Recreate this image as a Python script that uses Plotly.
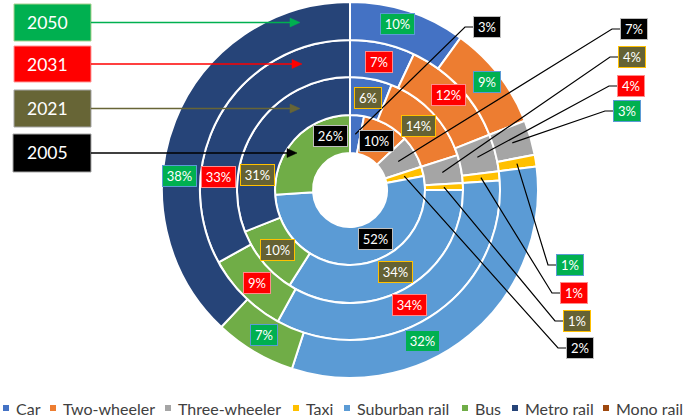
import math
import plotly.graph_objects as go

# ---------------- data ----------------
categories = ["Car", "Two-wheeler", "Three-wheeler", "Taxi",
              "Suburban rail", "Bus", "Metro rail", "Mono rail"]
years = ["2005", "2021", "2031", "2050"]
share_2005 = [3, 10, 7, 2, 52, 26, 0, 0]
share_2021 = [6, 14, 4, 1, 34, 10, 31, 0]
share_2031 = [7, 12, 4, 1, 34, 9, 33, 0]
share_2050 = [10, 9, 3, 1, 32, 7, 38, 0]
shares = {"2005": share_2005, "2021": share_2021, "2031": share_2031, "2050": share_2050}

# ---------------- styles / layout ----------------
W, H = 685, 419
colors = ["#4472C4", "#ED7D31", "#A5A5A5", "#FFC000",
          "#5B9BD5", "#70AD47", "#264478", "#9E480E"]
CX, CY = 350, 190
ring_in = {"2005": 37, "2021": 75, "2031": 113, "2050": 150}
ring_out = {"2005": 75, "2021": 113, "2031": 150, "2050": 188}
year_style = {
    "2005": dict(bg="#000000", border="#BFBFBF"),
    "2021": dict(bg="#656234", border="#FFC000"),
    "2031": dict(bg="#FF0000", border="#FF8C8C"),
    "2050": dict(bg="#00B050", border="#5B9BD5"),
}
FONT = "Lato, Carlito, Calibri, sans-serif"


def px(x):
    return x / W


def py(y):
    return 1 - y / H


fig = go.Figure()
for yr in years:
    R = ring_out[yr]
    fig.add_trace(go.Pie(
        labels=categories, values=shares[yr], sort=False, direction="clockwise",
        rotation=0, hole=ring_in[yr] / R, textinfo="none", showlegend=False,
        marker=dict(colors=colors, line=dict(color="white", width=2)),
        domain=dict(x=[px(CX - R), px(CX + R)], y=[py(CY + R), py(CY - R)]),
        name=yr, hoverinfo="label+value+name",
    ))

shapes = []
annotations = []


def slice_point(yr, idx, radius=None):
    vals = shares[yr]
    tot = sum(vals)
    before = sum(vals[:idx])
    frac = (before + vals[idx] / 2) / tot
    ang = 2 * math.pi * frac
    r = radius if radius is not None else (ring_in[yr] + ring_out[yr]) / 2
    return CX + r * math.sin(ang), CY - r * math.cos(ang)


# label positions that were moved by hand in the original (pixel centres)
label_override = {
    ("2005", "Bus"): (330, 136),
    ("2005", "Suburban rail"): (375, 239),
    ("2031", "Suburban rail"): (409, 305),
    ("2050", "Suburban rail"): (422, 341),
    ("2021", "Metro rail"): (257, 175),
    ("2031", "Metro rail"): (218, 177),
    ("2050", "Metro rail"): (179, 176),
    ("2050", "Car"): (397, 24),
    ("2031", "Two-wheeler"): (448, 95),
    ("2050", "Two-wheeler"): (487, 82),
}
# labels with leader lines (pixel centres of the boxes)
leader_pos = {
    ("2005", "Car"): (487, 27),
    ("2005", "Three-wheeler"): (634, 29),
    ("2021", "Three-wheeler"): (632, 57),
    ("2031", "Three-wheeler"): (631, 86),
    ("2050", "Three-wheeler"): (627, 111),
    ("2050", "Taxi"): (570, 265),
    ("2031", "Taxi"): (574, 293),
    ("2021", "Taxi"): (577, 321),
    ("2005", "Taxi"): (580, 348),
}


def add_label(text, x, y, st):
    w = 24 if len(text) <= 2 else 31
    annotations.append(dict(
        x=px(x), y=py(y), xref="paper", yref="paper", text=text, showarrow=False,
        font=dict(family=FONT, size=13, color="white"), bgcolor=st["bg"],
        bordercolor=st["border"], borderwidth=1, borderpad=1, width=w, height=18,
        xanchor="center", yanchor="middle",
    ))
    return (w + 4) / 2


for yr in years:
    st = year_style[yr]
    for i, cat in enumerate(categories):
        v = shares[yr][i]
        if v == 0:
            continue
        text = f"{v}%"
        key = (yr, cat)
        if key in leader_pos:
            bx, by = leader_pos[key]
            half = add_label(text, bx, by, st)
            sx, sy = slice_point(yr, i)
            left = bx - half
            kx = left - 8
            shapes.append(dict(
                type="path", xref="paper", yref="paper",
                path=f"M{px(sx)},{py(sy)} L{px(kx)},{py(by)} L{px(left)},{py(by)}",
                line=dict(color="black", width=1.2),
            ))
        else:
            if key in label_override:
                lx, ly = label_override[key]
            else:
                lx, ly = slice_point(yr, i)
            add_label(text, lx, ly, st)

# year boxes with arrows
year_box = {"2050": (14, 4, 91, 41), "2031": (14, 46, 91, 82),
            "2021": (14, 90, 91, 127), "2005": (13, 134, 91, 172)}
arrow_end = {"2050": 300, "2031": 302, "2021": 300, "2005": 297}
year_box_fill = {"2050": "#00B050", "2031": "#FF0000", "2021": "#676536", "2005": "#000000"}
year_box_line = {"2050": "#A9D18E", "2031": "#FF9999", "2021": "#A5A5A5", "2005": "#A5A5A5"}
for yr in years:
    x0, y0, x1, y1 = year_box[yr]
    cy = (y0 + y1) / 2
    shapes.append(dict(type="rect", xref="paper", yref="paper",
                       x0=px(x0), x1=px(x1), y0=py(y1), y1=py(y0),
                       fillcolor=year_box_fill[yr], line=dict(color=year_box_line[yr], width=1)))
    annotations.append(dict(x=px((x0 + x1) / 2 - 5), y=py(cy), xref="paper", yref="paper",
                            text=yr, showarrow=False, xanchor="center", yanchor="middle",
                            font=dict(family=FONT, size=17.5, color="white")))
    xe = arrow_end[yr]
    col = year_box_fill[yr]
    shapes.append(dict(type="line", xref="paper", yref="paper",
                       x0=px(x1), x1=px(xe - 8), y0=py(cy), y1=py(cy),
                       line=dict(color=col, width=1.6)))
    shapes.append(dict(type="path", xref="paper", yref="paper",
                       path=f"M{px(xe)},{py(cy)} L{px(xe - 10)},{py(cy - 4.5)} L{px(xe - 10)},{py(cy + 4.5)} Z",
                       fillcolor=col, line=dict(color=col, width=0.5)))

# custom legend
legend_x = [3, 50, 165, 293, 344, 462, 512, 603]
LEG_Y = 408
for i, cat in enumerate(categories):
    x = legend_x[i]
    shapes.append(dict(type="rect", xref="paper", yref="paper",
                       x0=px(x), x1=px(x + 6), y0=py(LEG_Y + 3), y1=py(LEG_Y - 3),
                       fillcolor=colors[i], line=dict(width=0)))
    annotations.append(dict(x=px(x + 11), y=py(LEG_Y), xref="paper", yref="paper",
                            text=cat, showarrow=False, xanchor="left", yanchor="middle",
                            font=dict(family=FONT, size=16, color="#404040")))

fig.update_layout(
    width=W, height=H, margin=dict(l=0, r=0, t=0, b=0),
    paper_bgcolor="white", plot_bgcolor="white",
    shapes=shapes, annotations=annotations, showlegend=False,
)

fig.write_html("out.html", config={"displayModeBar": False},
               post_script="document.body.style.margin='0';document.body.style.overflow='hidden';")
